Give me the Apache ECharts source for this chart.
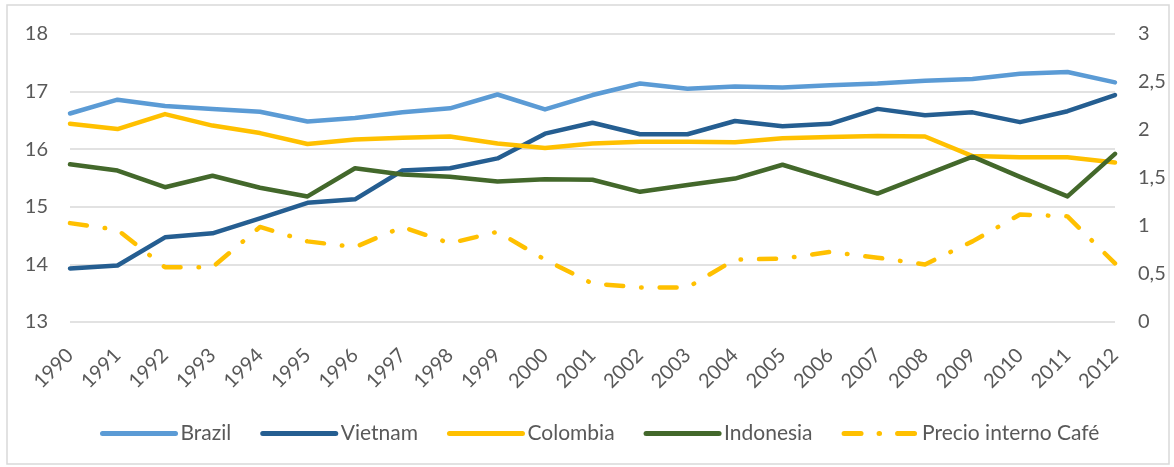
<!DOCTYPE html>
<html>
<head>
<meta charset="utf-8">
<script src="https://cdn.jsdelivr.net/npm/echarts@6/dist/echarts.min.js"></script>
<style>html,body{margin:0;padding:0;background:#fff;}#c{width:1174px;height:467px;}</style>
</head>
<body>
<div id="c"></div>
<script>
const years = ['1990','1991','1992','1993','1994','1995','1996','1997','1998','1999','2000','2001','2002','2003','2004','2005','2006','2007','2008','2009','2010','2011','2012'];
const brazil = [16.62,16.86,16.75,16.70,16.65,16.48,16.54,16.64,16.71,16.95,16.69,16.94,17.14,17.05,17.09,17.07,17.11,17.14,17.19,17.22,17.31,17.34,17.16];
const vietnam = [13.93,13.98,14.47,14.54,14.80,15.07,15.13,15.63,15.67,15.84,16.27,16.46,16.26,16.26,16.49,16.40,16.44,16.70,16.59,16.64,16.47,16.66,16.94];
const colombia = [16.44,16.35,16.61,16.41,16.28,16.09,16.17,16.20,16.22,16.10,16.02,16.10,16.13,16.13,16.12,16.19,16.21,16.23,16.22,15.88,15.86,15.86,15.77];
const indonesia = [15.74,15.63,15.34,15.54,15.33,15.18,15.67,15.56,15.52,15.44,15.48,15.47,15.26,15.38,15.49,15.73,15.48,15.23,15.55,15.87,15.52,15.18,15.92];
const precio = [1.03,0.96,0.57,0.57,0.99,0.84,0.78,0.99,0.82,0.94,0.65,0.40,0.36,0.36,0.65,0.66,0.73,0.67,0.60,0.84,1.12,1.10,0.61];
const leftTicks = {min:13, max:18, interval:1};
const rightTicks = {min:0, max:3, interval:0.5};

const FONT = 'Lato';
const chart = echarts.init(document.getElementById('c'));
function lineSeries(name, data, color, yIdx, type) {
  return {
    name: name, type: 'line', data: data, yAxisIndex: yIdx,
    symbol: 'none', smooth: false,
    lineStyle: {color: color, width: 4.5, type: type || 'solid', cap: 'round', join: 'round'},
    itemStyle: {color: color}
  };
}
chart.setOption({
  animation: false,
  textStyle: {fontFamily: FONT},
  graphic: [{
    type: 'rect', shape: {x: 7, y: 5, width: 1162, height: 459},
    style: {fill: 'none', stroke: '#D9D9D9', lineWidth: 1.5}, z: -1
  }],
  grid: {left: 70, right: 59, top: 34, bottom: 145, containLabel: false},
  legend: {
    top: 418, left: 95, itemGap: 29, itemWidth: 73, itemHeight: 10,
    itemStyle: {opacity: 0},
    lineStyle: {width: 5, cap: 'round'},
    textStyle: {fontFamily: FONT, fontSize: 21, color: '#595959'},
    data: ['Brazil','Vietnam','Colombia','Indonesia','Precio interno Café']
  },
  xAxis: {
    type: 'category', data: years, boundaryGap: false,
    axisLine: {show: false}, axisTick: {show: false},
    axisLabel: {rotate: 45, color: '#595959', fontSize: 20, fontFamily: FONT, margin: 30, interval: 0}
  },
  yAxis: [{
    type: 'value', min: leftTicks.min, max: leftTicks.max, interval: leftTicks.interval,
    axisLine: {show: false}, axisTick: {show: false},
    axisLabel: {color: '#595959', fontSize: 20, fontFamily: FONT, margin: 22},
    splitLine: {lineStyle: {color: '#D9D9D9', width: 1.5}}
  }, {
    type: 'value', min: rightTicks.min, max: rightTicks.max, interval: rightTicks.interval, position: 'right',
    axisLine: {show: false}, axisTick: {show: false},
    axisLabel: {color: '#595959', fontSize: 20, fontFamily: FONT, margin: 23,
      formatter: v => String(v).replace('.', ',')},
    splitLine: {show: false}
  }],
  series: [
    lineSeries('Brazil', brazil, '#5B9BD5', 0),
    lineSeries('Vietnam', vietnam, '#255E91', 0),
    lineSeries('Colombia', colombia, '#FFC000', 0),
    lineSeries('Indonesia', indonesia, '#43682B', 0),
    lineSeries('Precio interno Café', precio, '#FFC000', 1, [17, 18, 0.5, 18])
  ]
});
</script>
</body>
</html>
